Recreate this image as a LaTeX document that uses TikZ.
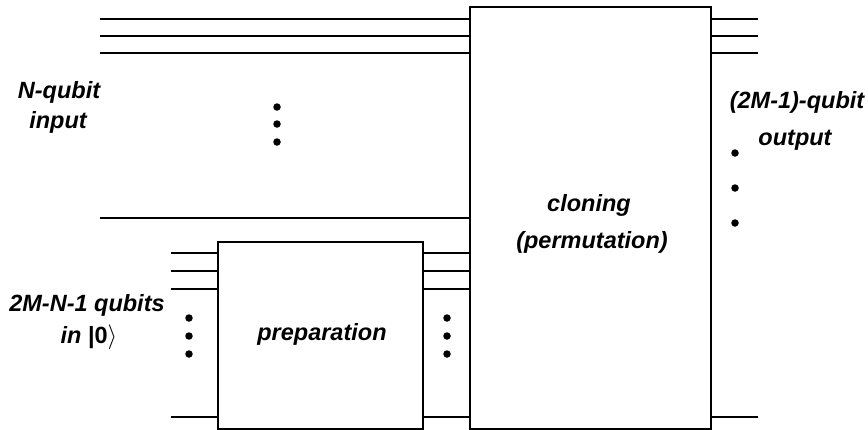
\documentclass[tikz,border=0pt]{standalone}
\usepackage{fontspec}
\setmainfont{Liberation Sans}
\begin{document}
\begin{tikzpicture}[x=1pt,y=-1pt,
  wire/.style={line width=2pt},
  boxx/.style={draw,line width=2pt,rectangle,inner sep=0pt},
  lbl/.style={font=\fontsize{23.5}{26}\selectfont\bfseries\itshape,inner sep=0pt,align=center},
  vdot/.style={circle,fill=black,inner sep=0pt,minimum size=7.5pt}]
\useasboundingbox (0,0) rectangle (868,429);
% boxes
\node[boxx,minimum width=241pt,minimum height=422pt] (clone) at (590.5,218) {};
\node[boxx,minimum width=205pt,minimum height=187pt] (prep) at (320.5,335.5) {};
% labels
\node[lbl] (cl1) at (589,205) {cloning};
\node[lbl] (cl2) at (592,242) {(permutation)};
\node[lbl] (pr) at (322,334) {preparation};
\node[lbl] (nq1) at (59,92) {N-qubit};
\node[lbl] (nq2) at (58,122) {input};
\node[lbl] (aq1) at (87,305) {2M-N-1 qubits};
\node[lbl] (aq2) at (89,337) {in {\upshape |0}$\rangle$};
\node[lbl] (oq1) at (797,102) {(2M-1)-qubit};
\node[lbl] (oq2) at (795,140) {output};
% free ends
\coordinate (i1) at (100,19);
\coordinate (i2) at (100,36);
\coordinate (i3) at (100,53);
\coordinate (i4) at (100,218);
\coordinate (p1) at (171,253);
\coordinate (p2) at (171,271);
\coordinate (p3) at (171,289);
\coordinate (p4) at (171,417);
\coordinate (o1) at (758,19);
\coordinate (o2) at (758,36);
\coordinate (o3) at (758,53);
\coordinate (o4) at (758,417);
% wires
\foreach \c in {i1,i2,i3,i4} \draw[wire] (\c) -- (\c -| clone.west);
\foreach \c in {p1,p2,p3,p4} {
  \draw[wire] (\c) -- (\c -| prep.west);
  \draw[wire] (\c -| prep.east) -- (\c -| clone.west);
}
\foreach \c in {o1,o2,o3,o4} \draw[wire] (\c -| clone.east) -- (\c);
% dots
\foreach \y [count=\k] in {107,124,142} \node[vdot] (di\k) at (277,\y) {};
\foreach \y [count=\k] in {318,336,354} {
  \node[vdot] (dp\k) at (189,\y) {};
  \node[vdot] (dq\k) at (447,\y) {};
}
\foreach \y [count=\k] in {153,188,223} \node[vdot] (do\k) at (735,\y) {};
\end{tikzpicture}
\end{document}
